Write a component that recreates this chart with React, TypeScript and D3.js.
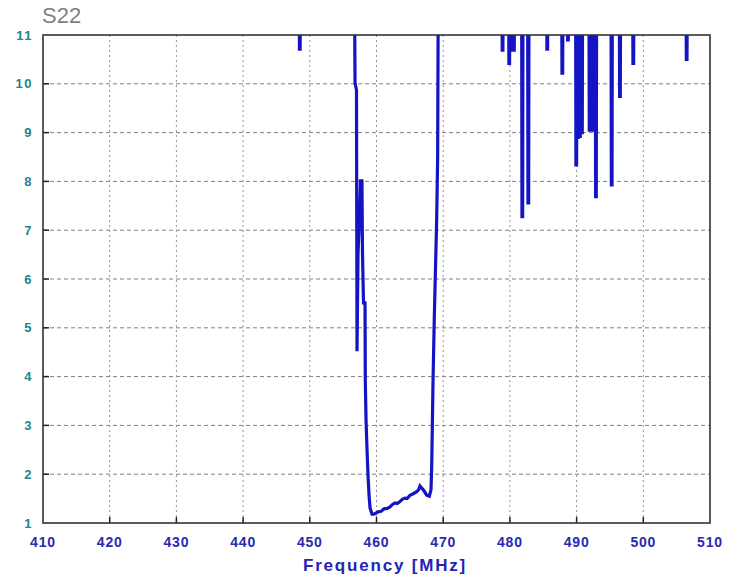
import React from "react";
import * as d3 from "d3";

const titleText = "S22";
const xLabel = "Frequency [MHz]";
const xTicks = [410, 420, 430, 440, 450, 460, 470, 480, 490, 500, 510];
const yTicks = [1, 2, 3, 4, 5, 6, 7, 8, 9, 10, 11];

// main resonance dip (frequency MHz, value)
const dipFreq = [
  456.7, 456.78, 457.0, 457.08, 457.23, 457.45, 457.6, 457.82, 457.9, 458.05,
  458.28, 458.32, 458.43, 458.58, 458.73, 458.88, 459.03, 459.33, 459.63,
  460.27, 460.7, 461.12, 461.6, 462.02, 462.4, 462.77, 463.1, 463.52, 463.9,
  464.27, 464.6, 465.02, 465.5, 466.03, 466.3, 466.52, 466.75, 467.02, 467.53,
  467.92, 468.17, 468.28, 468.37, 468.47, 468.67, 469.02, 469.17, 469.26,
];
const dipValue = [
  12, 10.02, 9.87, 4.52, 6.53, 7.21, 8.01, 8.01, 6.53, 5.51,
  5.51, 3.93, 3.11, 2.5, 1.98, 1.57, 1.31, 1.18, 1.18,
  1.23, 1.24, 1.29, 1.3, 1.33, 1.38, 1.41, 1.4, 1.44, 1.49,
  1.51, 1.5, 1.57, 1.6, 1.64, 1.68, 1.76, 1.72, 1.68, 1.57,
  1.55, 1.68, 2.17, 2.99, 3.87, 5.23, 7.21, 8.51, 12,
];

// narrow spikes dipping below the top of the scale
const spikeFreq = [
  448.5, 478.9, 479.9, 480.3, 480.6, 481.86, 482.76, 485.6, 487.86, 488.7,
  489.95, 490.2, 490.5, 490.8, 491.95, 492.3, 492.6, 492.9, 495.26, 496.5,
  498.5, 506.5,
];
const spikeValue = [
  10.71, 10.69, 10.42, 10.69, 10.69, 7.28, 7.56, 10.71, 10.22, 10.9,
  8.34, 8.9, 8.92, 9.0, 9.05, 9.05, 9.1, 7.69, 7.93, 9.74,
  10.42, 10.5,
];
const offScale = 12;

const W = 736;
const H = 577;
const M = { left: 43, right: 710, top: 35, bottom: 523 };

export default function App() {
  const x = d3.scaleLinear().domain([410, 510]).range([M.left, M.right]);
  const y = d3.scaleLinear().domain([1, 11]).range([M.bottom, M.top]);

  const pts: [number, number][] = [[410, offScale]];
  spikeFreq.forEach((f, i) => {
    pts.push([f - 0.1, offScale], [f - 0.05, spikeValue[i]], [f + 0.05, spikeValue[i]], [f + 0.1, offScale]);
  });
  dipFreq.forEach((f, i) => pts.push([f, dipValue[i]]));
  pts.push([510, offScale]);
  pts.sort((a, b) => a[0] - b[0]);

  const line = d3
    .line<[number, number]>()
    .x((d) => x(d[0]))
    .y((d) => y(d[1]));

  const font = "'Liberation Sans', Arial, sans-serif";

  return (
    <svg
      width={W}
      height={H}
      style={{ position: "absolute", left: 0, top: 0, background: "#fff" }}
    >
      <defs>
        <clipPath id="plotClip">
          <rect x={M.left} y={M.top} width={M.right - M.left} height={M.bottom - M.top} />
        </clipPath>
      </defs>
      <rect x={0} y={0} width={W} height={H} fill="#fff" />
      <text x={42} y={23} fontFamily={font} fontSize={22} fill="#808080">
        {titleText}
      </text>
      {/* grid */}
      {yTicks.slice(1, -1).map((t) => (
        <line
          key={"gy" + t}
          x1={M.left}
          x2={M.right}
          y1={y(t)}
          y2={y(t)}
          stroke="#808080"
          strokeWidth={1}
          strokeDasharray="4,3"
        />
      ))}
      {xTicks.slice(1, -1).map((t) => (
        <line
          key={"gx" + t}
          x1={x(t)}
          x2={x(t)}
          y1={M.top}
          y2={M.bottom}
          stroke="#949488"
          strokeWidth={1}
          strokeDasharray="2,3"
        />
      ))}
      {/* tick marks */}
      {yTicks.slice(1, -1).map((t) => (
        <line key={"ty" + t} x1={M.left} x2={M.left + 6} y1={y(t)} y2={y(t)} stroke="#222" strokeWidth={1.5} />
      ))}
      {xTicks.slice(1, -1).map((t) => (
        <line key={"tx" + t} x1={x(t)} x2={x(t)} y1={M.bottom} y2={M.bottom - 6} stroke="#222" strokeWidth={1.5} />
      ))}
      {/* data */}
      <path
        d={line(pts) || ""}
        fill="none"
        stroke="#1414c4"
        strokeWidth={3.2}
        strokeLinejoin="miter"
        clipPath="url(#plotClip)"
      />
      {/* frame */}
      <rect
        x={M.left}
        y={M.top}
        width={M.right - M.left}
        height={M.bottom - M.top}
        fill="none"
        stroke="#333"
        strokeWidth={1.6}
      />
      {/* y labels */}
      {yTicks.map((t) => (
        <text
          key={"ly" + t}
          x={33}
          y={y(t) + 4.5}
          textAnchor="end"
          fontFamily={font}
          fontWeight="bold"
          fontSize={13}
          letterSpacing={1.5}
          fill="#1f8585"
        >
          {t}
        </text>
      ))}
      {/* x labels */}
      {xTicks.map((t) => (
        <text
          key={"lx" + t}
          x={x(t)}
          y={547}
          textAnchor="middle"
          fontFamily={font}
          fontWeight="bold"
          fontSize={14}
          letterSpacing={0.8}
          fill="#2a2ab0"
        >
          {t}
        </text>
      ))}
      <text
        x={385}
        y={571}
        textAnchor="middle"
        fontFamily={font}
        fontWeight="bold"
        fontSize={17}
        letterSpacing={1.8}
        fill="#2424b4"
      >
        {xLabel}
      </text>
    </svg>
  );
}
